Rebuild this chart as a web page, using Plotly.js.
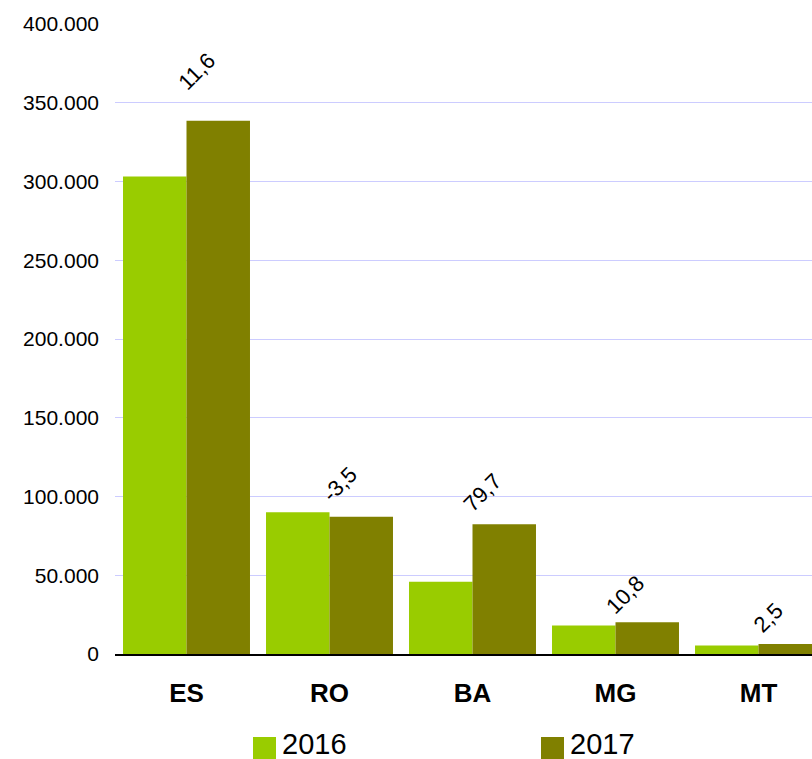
<!DOCTYPE html>
<html>
<head>
<meta charset="utf-8">
<script src="https://cdn.plot.ly/plotly-3.0.1.min.js"></script>
<style>
  html, body { margin: 0; padding: 0; background: #ffffff; }
  #chart { width: 812px; height: 759px; }
</style>
</head>
<body>
<div id="chart"></div>
<script>
const categories = ['ES', 'RO', 'BA', 'MG', 'MT'];
const seriesNames = ['2016', '2017'];
const values2016 = [303200, 90000, 45800, 18100, 5400];
const values2017 = [338500, 87200, 82400, 20100, 6300];
const growth = [11.6, -3.5, 79.7, 10.8, 2.5];
const yTicks = [0, 50000, 100000, 150000, 200000, 250000, 300000, 350000, 400000];

const colors = ['#99cc00', '#808000'];
const FONT = 'Liberation Sans, Arial, sans-serif';

const traces = [values2016, values2017].map((vals, i) => ({
  type: 'bar',
  name: seriesNames[i],
  x: categories,
  y: vals,
  marker: { color: colors[i], line: { width: 0 } },
  showlegend: false,
  hoverinfo: 'skip'
}));

const fmt = v => v.toFixed(1).replace('.', ',');

const annotations = categories.map((c, i) => ({
  x: c,
  y: values2017[i],
  xref: 'x',
  yref: 'y',
  text: fmt(growth[i]),
  showarrow: false,
  textangle: -45,
  xanchor: 'center',
  yanchor: 'middle',
  xshift: 10,
  yshift: 26 + 0.00007 * values2017[i],
  font: { family: FONT, size: 22, color: '#000000' }
}));

// custom legend (large swatches)
const plotL = 115, plotR = 812, plotT = 24, plotB = 654;
const pw = plotR - plotL, ph = plotB - plotT;
const px = x => (x - plotL) / pw;
const py = y => (plotB - y) / ph;
const legendX = [253, 541];
const shapes = [];
seriesNames.forEach((n, i) => {
  shapes.push({
    type: 'rect', xref: 'paper', yref: 'paper',
    x0: px(legendX[i]), x1: px(legendX[i] + 23),
    y0: py(759), y1: py(737),
    fillcolor: colors[i], line: { width: 0 }
  });
  annotations.push({
    xref: 'paper', yref: 'paper',
    x: px(legendX[i] + 27), y: py(744),
    xanchor: 'left', yanchor: 'middle',
    text: n, showarrow: false,
    font: { family: FONT, size: 29, color: '#000000' }
  });
});

const layout = {
  width: 812,
  height: 759,
  margin: { l: plotL, r: 0, t: plotT, b: 759 - plotB },
  paper_bgcolor: '#ffffff',
  plot_bgcolor: '#ffffff',
  separators: ',.',
  bargap: 0.112,
  bargroupgap: 0,
  barmode: 'group',
  showlegend: false,
  xaxis: {
    type: 'category',
    range: [-0.5, -0.5 + pw / 143],
    showline: true,
    linecolor: '#000000',
    linewidth: 1.5,
    showgrid: false,
    zeroline: false,
    ticks: '',
    ticklabelstandoff: 15,
    tickfont: { family: 'Liberation Sans Narrow, Arial Narrow, ' + FONT, size: 26, color: '#000000', weight: 'bold' },
    fixedrange: true
  },
  yaxis: {
    range: [0, 400000],
    tickvals: yTicks,
    tickformat: ',d',
    showgrid: true,
    gridcolor: '#ccccff',
    gridwidth: 1,
    zeroline: false,
    showline: false,
    ticks: '',
    ticklabelstandoff: 15,
    tickfont: { family: FONT, size: 21, color: '#000000' },
    fixedrange: true
  },
  shapes: shapes,
  annotations: annotations
};

Plotly.newPlot('chart', traces, layout, { displayModeBar: false, staticPlot: true });
</script>
</body>
</html>
